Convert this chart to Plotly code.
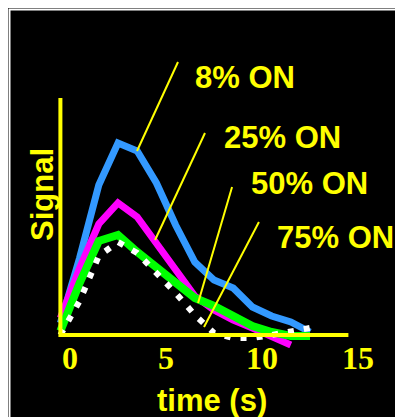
import plotly.graph_objects as go

# ---- data ----
time_s = [-0.5, 0.5, 1.5, 2.5, 3.5, 4.5, 5.5, 6.5, 7.5, 8.5, 9.5, 10.5, 11.5, 12.5]
sig_8 = [6, 38.5, 75, 96, 92, 76, 55, 36.5, 27.5, 23.5, 14, 9.5, 6.5, 1.5]
sig_25 = [8.5, 33.5, 55.5, 66, 59, 46, 32.5, 19.5, 12.5, 7.5, 3.5, -1, -5]
sig_50 = [2, 26, 47, 50, 41.5, 33.5, 25.5, 18.5, 14.5, 10, 4.5, 1.5, -0.5, -0.5]
sig_75 = [0, 17, 39.5, 46.5, 41, 31.5, 21, 10, 1, -1.5, -1.5, 0, 2, 3.5]

tick_vals = [0, 5, 10, 15]
tick_text = ["0", "5", "10", "15"]

labels = ["8% ON", "25% ON", "50% ON", "75% ON"]
label_t = [6.4, 7.9, 9.3, 10.7]
label_s = [129, 99, 76, 49]
leader_t0 = [5.625, 7.03, 8.44, 9.84]
leader_s0 = [136.5, 101, 74, 56.5]
leader_t1 = [3.49, 4.43, 6.67, 6.98]
leader_s1 = [92, 47.5, 16, 4]

YEL = "#FFFF00"
OFF = 8  # page offset of the figure
W, H = 403, 417
L, T = 50 - OFF, 40 - OFF
PW, PH = 328, 308
R, B = W - L - PW, H - T - PH


def px(x):  # page pixel -> paper x
    return (x - OFF - L) / PW


def py(y):  # page pixel -> paper y
    return (H - B - (y - OFF)) / PH


fig = go.Figure()
series = [
    (sig_8, "#3399FF", 7, "solid"),
    (sig_25, "#FF00FF", 7, "solid"),
    (sig_50, "#00FF00", 8, "solid"),
    (sig_75, "#FFFFFF", 6, "6px,10px"),
]
for ys, col, w, dash in series:
    fig.add_trace(go.Scatter(x=time_s[:len(ys)], y=ys, mode="lines",
                             line=dict(color=col, width=w, dash=dash),
                             showlegend=False, hoverinfo="skip"))

shapes = []
shapes.append(dict(type="line", xref="x", yref="y", x0=-0.5, x1=-0.5, y0=-1, y1=118.5,
                   line=dict(color=YEL, width=4)))
shapes.append(dict(type="line", xref="x", yref="y", x0=-0.5, x1=14.5, y0=0, y1=0,
                   line=dict(color=YEL, width=4)))
for a, b, c, d in zip(leader_t0, leader_s0, leader_t1, leader_s1):
    shapes.append(dict(type="line", xref="x", yref="y", x0=a, y0=b, x1=c, y1=d,
                       line=dict(color=YEL, width=2)))
shapes.append(dict(type="rect", xref="paper", yref="paper",
                   x0=px(OFF + 1.5), x1=px(440), y0=py(OFF + 1.5), y1=py(460),
                   line=dict(color="white", width=2), fillcolor="rgba(0,0,0,0)"))

font_b = dict(family="Liberation Sans, Arial, sans-serif", size=31, color=YEL, weight="bold")
annotations = []
for txt, t, s in zip(labels, label_t, label_s):
    annotations.append(dict(x=t, y=s, xref="x", yref="y", text=txt, showarrow=False,
                            xanchor="left", yanchor="middle", font=font_b))
annotations.append(dict(x=px(212), y=py(400), xref="paper", yref="paper", text="time (s)",
                        showarrow=False, xanchor="center", yanchor="middle", font=font_b))
annotations.append(dict(x=px(42), y=py(195), xref="paper", yref="paper", text="Signal",
                        showarrow=False, xanchor="center", yanchor="middle", textangle=-90,
                        font=font_b))

x0 = (50 - 70) / 19.2
x1 = (50 + PW - 70) / 19.2
fig.update_layout(
    width=W, height=H,
    margin=dict(l=L, r=R, t=T, b=B, pad=0),
    paper_bgcolor="black", plot_bgcolor="black",
    xaxis=dict(range=[x0, x1], tickvals=tick_vals, ticktext=tick_text,
               anchor="free", position=12 / PH,
               showgrid=False, zeroline=False, showline=False, ticks="",
               tickfont=dict(family="Liberation Serif, Times New Roman, serif", size=32,
                             color=YEL, weight="bold")),
    yaxis=dict(range=[-6.5, 147.5], visible=False),
    shapes=shapes, annotations=annotations,
)
fig.write_html("out.html")
